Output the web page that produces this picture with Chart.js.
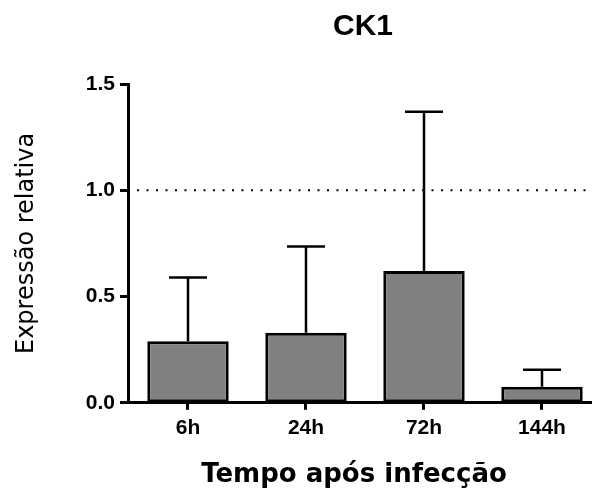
<!DOCTYPE html>
<html>
<head>
<meta charset="utf-8">
<script src="https://cdn.jsdelivr.net/npm/chart.js@4/dist/chart.umd.min.js"></script>
<style>
  html, body { margin: 0; padding: 0; background: #fff; overflow: hidden; }
  #ck1Chart { display: block; }
</style>
</head>
<body>
<canvas id="ck1Chart" width="610" height="491"></canvas>
<script>
// dados
const categories = ['6h', '24h', '72h', '144h'];
const meanValues = [0.29, 0.33, 0.62, 0.075];
const errValues = [0.30, 0.405, 0.75, 0.08];
const yTicks = [0.0, 0.5, 1.0, 1.5];
const referenceLine = 1.0;
const chartTitle = 'CK1';
const xTitle = 'Tempo após infecção';

// barras de erro (só para cima, como no GraphPad)
const errorBarsPlugin = {
  id: 'errorBars',
  afterDatasetsDraw(chart) {
    const ctx = chart.ctx;
    const meta = chart.getDatasetMeta(0);
    const yScale = chart.scales.y;
    ctx.save();
    ctx.strokeStyle = '#000';
    ctx.lineWidth = 2.5;
    meta.data.forEach((bar, i) => {
      const yTop = yScale.getPixelForValue(meanValues[i] + errValues[i]);
      const yBase = yScale.getPixelForValue(meanValues[i]);
      ctx.beginPath();
      ctx.moveTo(bar.x, yBase);
      ctx.lineTo(bar.x, yTop);
      ctx.moveTo(bar.x - 19, yTop);
      ctx.lineTo(bar.x + 19, yTop);
      ctx.stroke();
    });
    ctx.restore();
  }
};

// linha pontilhada em 1.0
const refLinePlugin = {
  id: 'refLine',
  beforeDatasetsDraw(chart) {
    const ctx = chart.ctx;
    const area = chart.chartArea;
    const y = chart.scales.y.getPixelForValue(referenceLine);
    ctx.save();
    ctx.strokeStyle = '#000';
    ctx.lineWidth = 2;
    ctx.setLineDash([2, 7.5]);
    ctx.beginPath();
    ctx.moveTo(area.left + 8, y);
    ctx.lineTo(area.right, y);
    ctx.stroke();
    ctx.restore();
  }
};

// título e título do eixo x (o GraphPad não centra igual ao Chart.js)
const titlesPlugin = {
  id: 'titles',
  afterDraw(chart) {
    const ctx = chart.ctx;
    const area = chart.chartArea;
    const cx = (area.left + area.right) / 2;
    ctx.save();
    ctx.fillStyle = '#000';
    ctx.textAlign = 'center';
    ctx.textBaseline = 'alphabetic';
    ctx.font = 'bold 30px "Liberation Sans"';
    ctx.fillText(chartTitle, cx - 2, area.top - 49);
    ctx.font = 'bold 26px "DejaVu Sans"';
    ctx.fillText(xTitle, cx - 11, area.bottom + 79);
    ctx.restore();
  }
};

const ctx = document.getElementById('ck1Chart').getContext('2d');
new Chart(ctx, {
  type: 'bar',
  data: {
    labels: categories,
    datasets: [{
      data: meanValues,
      backgroundColor: '#808080',
      borderColor: '#000',
      borderWidth: 3,
      borderSkipped: false,
      categoryPercentage: 1.0,
      barPercentage: 0.69
    }]
  },
  options: {
    responsive: false,
    animation: false,
    layout: { padding: { left: 12, right: 9, top: 84, bottom: 44 } },
    plugins: {
      legend: { display: false },
      tooltip: { enabled: false },
      title: { display: false }
    },
    scales: {
      x: {
        grid: { display: true, offset: false, drawOnChartArea: false, drawTicks: true, tickLength: 7, tickWidth: 3, tickColor: '#000' },
        border: { display: true, color: '#000', width: 3 },
        ticks: {
          color: '#000',
          padding: 6,
          font: { family: 'Liberation Sans', size: 21, weight: 'bold' }
        },
        title: { display: false }
      },
      y: {
        min: 0,
        max: 1.5,
        afterBuildTicks(axis) {
          axis.ticks = yTicks.map(v => ({ value: v }));
        },
        grid: { display: true, drawOnChartArea: false, drawTicks: true, tickLength: 9, tickWidth: 3, tickColor: '#000' },
        border: { display: true, color: '#000', width: 3 },
        ticks: {
          color: '#000',
          padding: 5,
          font: { family: 'Liberation Sans', size: 21, weight: 'bold' },
          callback: v => Number(v).toFixed(1)
        },
        title: {
          display: true,
          text: 'Expressão relativa',
          color: '#000',
          font: { family: 'DejaVu Sans', size: 24 },
          padding: { top: 0, bottom: 40 }
        }
      }
    }
  },
  plugins: [refLinePlugin, errorBarsPlugin, titlesPlugin]
});
</script>
</body>
</html>
